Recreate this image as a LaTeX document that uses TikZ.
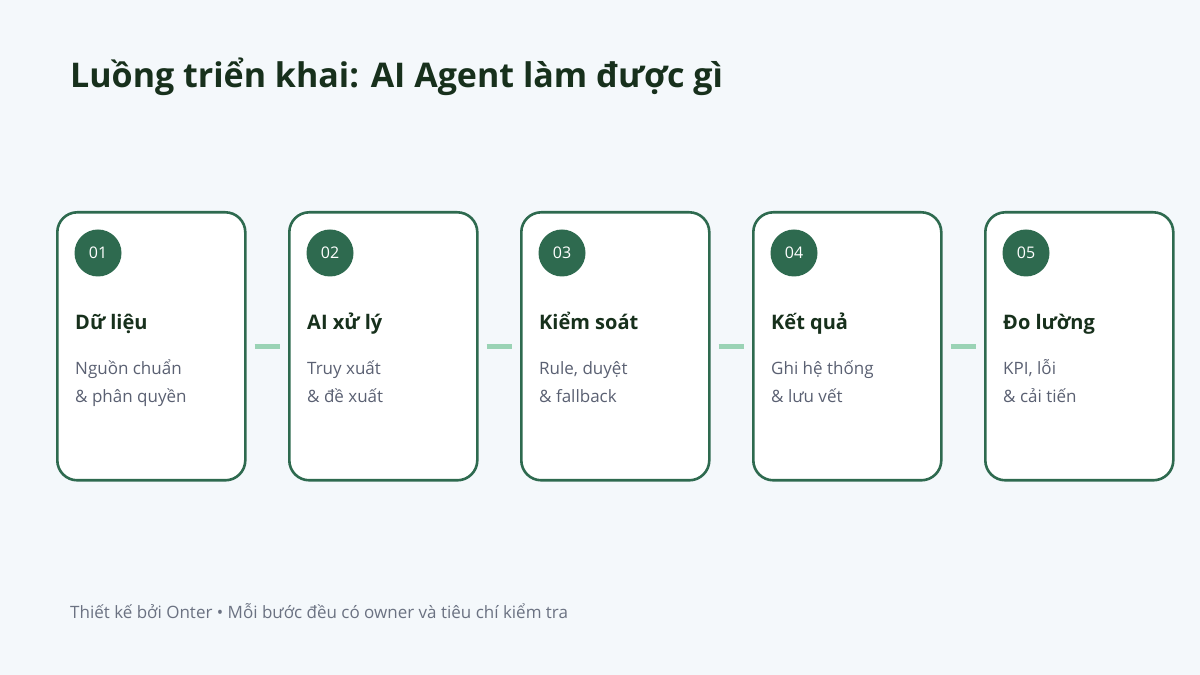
\documentclass[tikz,border=0pt]{standalone}
\usepackage{fontspec}
\setmainfont{Open Sans}
\usetikzlibrary{positioning}
\definecolor{bgc}{HTML}{F4F8FB}
\definecolor{deepgreen}{HTML}{2E6A4F}
\definecolor{mint}{HTML}{9AD3B5}
\definecolor{inkgreen}{HTML}{17301C}
\definecolor{slate}{HTML}{5A6072}
\definecolor{footgray}{HTML}{6B7282}
\tikzset{
	card/.style    = {shape=rectangle, rounded corners=20pt, draw=deepgreen,
		line width=2.6pt, fill=white, minimum width=188pt, minimum height=268pt,
		anchor=north west, inner sep=0pt},
	badge/.style   = {circle, fill=deepgreen, minimum size=47pt, inner sep=0pt,
		text=white, font=\fontsize{16}{18}\selectfont},
	head/.style    = {anchor=base west, inner sep=0pt, text=inkgreen,
		font=\fontsize{20}{24}\selectfont\bfseries},
	desc/.style    = {anchor=base west, inner sep=0pt, text=slate, align=left,
		font=\fontsize{17}{28}\selectfont},
	link/.style    = {draw=mint, line width=5pt, shorten <=8pt, shorten >=8pt}
}
\begin{document}
\begin{tikzpicture}[x=1pt, y=1pt]
\fill[bgc] (0,0) rectangle (1200,675);
\useasboundingbox (0,0) rectangle (1200,675);
\node [anchor=base west, inner sep=0pt, text=inkgreen,
	font=\fontsize{34}{40}\selectfont\bfseries] (title) at (70,587)
	{Luồng triển khai: AI Agent làm được gì};
\foreach \i/\hd/\la/\lb in {1/Dữ liệu/Nguồn chuẩn/\& phân quyền,
		2/AI xử lý/Truy xuất/\& đề xuất,
		3/Kiểm soát/{Rule, duyệt}/\& fallback,
		4/Kết quả/Ghi hệ thống/\& lưu vết,
		5/Đo lường/{KPI, lỗi}/\& cải tiến}
{
	\node [card] (c\i) at ({56+232*(\i-1)},464) {};
	\node [badge] (b\i) at ([xshift=42pt, yshift=-42pt]c\i.north west) {0\i};
	\node [head] (h\i) at ([xshift=19pt, yshift=-119pt]c\i.north west) {\hd};
	\node [desc] (d\i) at ([xshift=19pt, yshift=-192pt]c\i.north west) {\la\\\lb};
}
\foreach \i [evaluate=\i as \j using int(\i+1)] in {1,...,4}
	\draw [link] (c\i.east) -- (c\j.west);
\node [anchor=base west, inner sep=0pt, text=footgray,
	font=\fontsize{17}{20}\selectfont] (foot) at (70,56)
	{Thiết kế bởi Onter • Mỗi bước đều có owner và tiêu chí kiểm tra};
\end{tikzpicture}
\end{document}
